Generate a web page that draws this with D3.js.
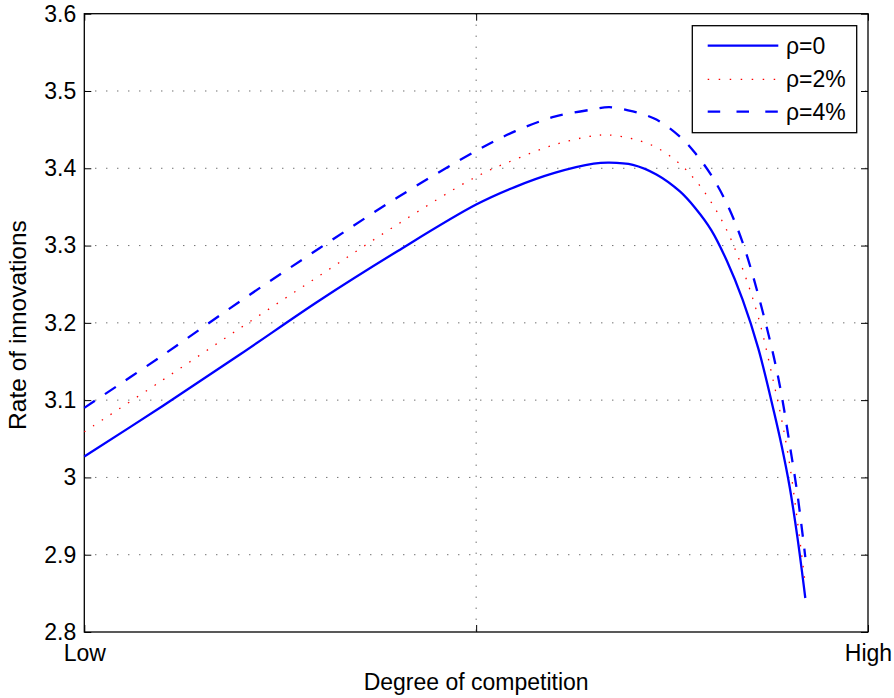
<!DOCTYPE html>
<html>
<head>
<meta charset="utf-8">
<script src="https://cdn.jsdelivr.net/npm/d3@7"></script>
<style>
  html, body { margin: 0; padding: 0; background: #fff; }
  svg { display: block; }
  text { font-family: "Liberation Sans", Arial, Helvetica, sans-serif; fill: #000; }
</style>
</head>
<body>
<svg id="chart" width="894" height="698"></svg>
<script>
// Degree of competition (0 = Low, 1 = High)
const xValues = [0, 0.1, 0.2, 0.3, 0.4, 0.5, 0.55, 0.6, 0.65, 0.67, 0.7, 0.73, 0.76, 0.78, 0.8, 0.82, 0.84, 0.86, 0.88, 0.89, 0.9, 0.91, 0.92];
// Rate of innovations
const rho0 = [3.027, 3.0925, 3.160, 3.229, 3.293, 3.353, 3.376, 3.394, 3.406, 3.4073, 3.4045, 3.392, 3.370, 3.348, 3.320, 3.280, 3.230, 3.167, 3.085, 3.040, 2.988, 2.922, 2.844];
const rho2 = [3.059, 3.126, 3.194, 3.261, 3.3276, 3.389, 3.4116, 3.4305, 3.442, 3.443, 3.438, 3.427, 3.4055, 3.3843, 3.356, 3.3195, 3.270, 3.2075, 3.121, 3.074, 3.017, 2.943, 2.862];
const rho4 = [3.090, 3.158, 3.2287, 3.2965, 3.3625, 3.4225, 3.448, 3.4667, 3.4763, 3.479, 3.4735, 3.463, 3.441, 3.419, 3.391, 3.354, 3.304, 3.236, 3.155, 3.105, 3.043, 2.978, 2.897];
const seriesNames = ["ρ=0", "ρ=2%", "ρ=4%"];
const yTicks = [2.8, 2.9, 3, 3.1, 3.2, 3.3, 3.4, 3.5, 3.6];
const xTicks = [0, 0.5, 1];
const xTickLabels = ["Low", "", "High"];

const svg = d3.select("#chart");
const pL = 84.3, pR = 868, pT = 13.7, pB = 632;
const x = d3.scaleLinear().domain([0, 1]).range([pL, pR]);
const y = d3.scaleLinear().domain([2.8, 3.6]).range([pB, pT]);
const FS = 23;

// grid lines
const grid = svg.append("g");
grid.selectAll("line.gy").data(yTicks.filter(t => t > 2.8 && t < 3.6)).enter().append("line")
  .attr("x1", pL).attr("x2", pR)
  .attr("y1", d => y(d)).attr("y2", d => y(d))
  .attr("stroke", "#333").attr("stroke-width", 1).attr("stroke-dasharray", "1,10");
grid.selectAll("line.gx").data(xTicks.filter(t => t > 0 && t < 1)).enter().append("line")
  .attr("x1", d => x(d)).attr("x2", d => x(d))
  .attr("y1", pT).attr("y2", pB)
  .attr("stroke", "#333").attr("stroke-width", 1).attr("stroke-dasharray", "1,10");

// axes
const yAxisL = d3.axisLeft(y).tickValues(yTicks).tickFormat(d3.format("~g")).tickSizeInner(-7).tickSizeOuter(0).tickPadding(8);
const yAxisR = d3.axisRight(y).tickValues(yTicks).tickFormat("").tickSizeInner(-7).tickSizeOuter(0);
const xAxisB = d3.axisBottom(x).tickValues(xTicks).tickFormat((d, i) => xTickLabels[i]).tickSizeInner(-7).tickSizeOuter(0).tickPadding(13);
const xAxisT = d3.axisTop(x).tickValues(xTicks).tickFormat("").tickSizeInner(-7).tickSizeOuter(0);

function styleAxis(g) {
  g.select(".domain").remove();
  g.selectAll(".tick line").attr("stroke", "#000").attr("stroke-width", 1);
  g.selectAll("text").attr("font-size", FS).attr("font-family", "Liberation Sans, Arial, sans-serif").attr("fill", "#000");
}
svg.append("g").attr("transform", `translate(${pL},0)`).call(yAxisL).call(styleAxis);
svg.append("g").attr("transform", `translate(${pR},0)`).call(yAxisR).call(styleAxis);
svg.append("g").attr("transform", `translate(0,${pB})`).call(xAxisB).call(styleAxis);
svg.append("g").attr("transform", `translate(0,${pT})`).call(xAxisT).call(styleAxis);

// box
svg.append("rect").attr("x", pL).attr("y", pT).attr("width", pR - pL).attr("height", pB - pT)
  .attr("fill", "none").attr("stroke", "#000").attr("stroke-width", 1.3);

// lines
const series = [
  { name: seriesNames[0], values: rho0, color: "#0000ff", width: 2.3, dash: null, ldash: null },
  { name: seriesNames[1], values: rho2, color: "#ff0000", width: 1.3, dash: "1.5,9", ldash: "1.5,9.5" },
  { name: seriesNames[2], values: rho4, color: "#0000ff", width: 2.3, dash: "13,12", ldash: "12.5,16.3" }
];
const line = d3.line().x(d => x(d[0])).y(d => y(d[1])).curve(d3.curveCatmullRom.alpha(0.5));
series.forEach(s => {
  svg.append("path")
    .datum(xValues.map((xv, i) => [xv, s.values[i]]))
    .attr("d", line)
    .attr("fill", "none")
    .attr("stroke", s.color)
    .attr("stroke-width", s.width)
    .attr("stroke-dasharray", s.dash);
});

// axis labels
svg.append("text").attr("x", x(0.5)).attr("y", 690).attr("text-anchor", "middle")
  .attr("font-size", FS).text("Degree of competition");
svg.append("text").attr("transform", `translate(26,325) rotate(-90)`).attr("text-anchor", "middle")
  .attr("font-size", 24.5).text("Rate of innovations");

// legend
const lg = svg.append("g");
lg.append("rect").attr("x", 692.3).attr("y", 25.7).attr("width", 164.4).attr("height", 107)
  .attr("fill", "#fff").attr("stroke", "#000").attr("stroke-width", 1.3);
const rowsY = [45.7, 79.3, 111.7];
series.forEach((s, i) => {
  lg.append("line").attr("x1", 707.7).attr("x2", 778.3).attr("y1", rowsY[i]).attr("y2", rowsY[i])
    .attr("stroke", s.color).attr("stroke-width", s.width).attr("stroke-dasharray", s.ldash);
  lg.append("text").attr("x", 786).attr("y", rowsY[i]).attr("dy", "0.35em")
    .attr("font-size", FS).text(s.name);
});
</script>
</body>
</html>
